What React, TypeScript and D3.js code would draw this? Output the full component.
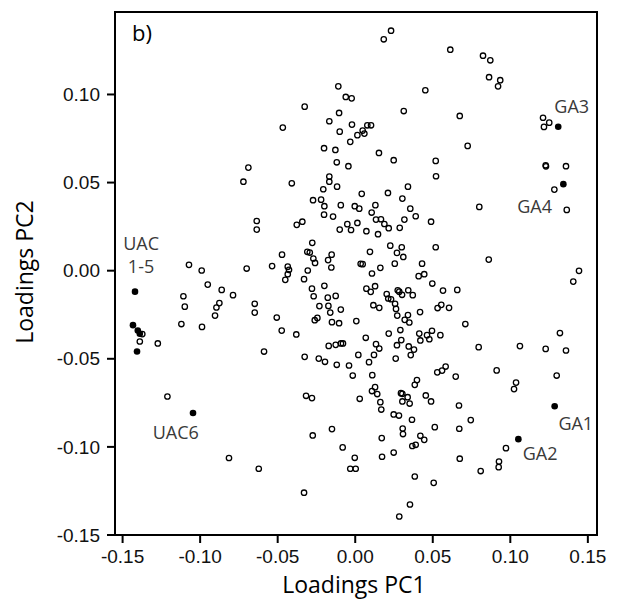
import React from "react";
import { scaleLinear } from "d3";

// PC1 / PC2 loadings of the open (unlabelled) variables
const pc1Open = [
  -0.0689, -0.0721, 0.0231, 0.0184, -0.0109, -0.0061, -0.0023, 0.0452, -0.0326, -0.0104,
  0.0313, -0.0467, -0.0167, -0.0021, -0.01, 0.0078, 0.0102, 0.0048, 0.0059, 0.0014,
  -0.0032, -0.0201, -0.0128, 0.0153, 0.0248, 0.0519, -0.0119, -0.0044, 0.0521, -0.0409,
  -0.0167, -0.0167, -0.0206, -0.0117, 0.034, 0.0042, 0.0211, -0.0272, -0.022, -0.0199,
  -0.0201, -0.0143, -0.0093, -0.0003, 0.0026, 0.013, 0.0106, 0.0304, 0.0355, 0.039,
  0.0317, 0.0489, 0.0134, 0.0166, 0.0188, 0.0216, 0.0287, 0.0147, 0.0072, 0.0014,
  -0.0051, -0.0027, -0.01, -0.0377, -0.0341, -0.0277, -0.0309, -0.0293, -0.027, -0.0259,
  -0.0152, -0.0175, -0.0154, -0.0472, -0.0536, -0.0435, -0.0427, -0.0435, -0.0451, -0.0306,
  -0.033, 0.0035, 0.0048, 0.0095, 0.0162, 0.0108, 0.0226, 0.03, 0.0269, 0.031,
  0.0255, 0.0519, 0.0431, 0.0445, 0.0409, 0.0497, -0.0199, -0.0279, -0.0268, -0.0177,
  -0.0126, -0.0173, -0.0231, -0.0161, -0.0093, 0.0072, 0.0128, 0.01, 0.0203, 0.0213,
  0.0231, 0.0274, 0.0284, 0.0302, 0.0342, 0.0371, 0.0117, 0.0155, 0.0257, 0.0263,
  0.0271, 0.034, 0.0319, 0.0349, 0.0418, 0.0531, -0.0506, -0.0261, -0.0244, -0.015,
  -0.0104, 0.0007, -0.0474, -0.038, 0.0216, 0.0291, 0.0413, 0.0463, 0.0495, 0.0478,
  0.042, 0.0068, 0.0297, -0.0171, -0.0126, -0.0092, -0.0079, 0.0134, 0.0155, 0.0269,
  0.0345, 0.0379, 0.0358, 0.0261, 0.0121, 0.002, -0.0326, -0.0235, -0.0195, -0.0119,
  -0.004, 0.0089, -0.0016, 0.011, 0.0529, 0.0398, 0.0384, 0.0128, 0.0108, 0.0142,
  -0.0317, -0.0279, 0.0029, 0.0162, 0.0168, 0.0295, 0.0304, 0.0338, 0.0304, 0.0351,
  0.0455, 0.0489, 0.0248, 0.0282, 0.0366, 0.0513, -0.015, -0.0274, 0.0306, 0.0308,
  0.042, 0.0445, 0.0368, 0.039, 0.0171, -0.0081, -0.0003, 0.0173, 0.0248, -0.0032,
  0.0003, 0.0384, 0.0506, -0.033, 0.0353, 0.0284, 0.0613, 0.0824, 0.0871, 0.0863,
  0.0935, 0.0921, 0.0674, 0.1211, 0.1251, 0.1217, 0.0725, 0.1228, 0.123, 0.1359,
  0.1284, 0.08, 0.1364, 0.0861, 0.1443, 0.1406, 0.0566, 0.0658, 0.0555, 0.0605,
  0.071, 0.0549, 0.0796, 0.1062, 0.1228, 0.1359, 0.132, 0.056, 0.0583, 0.0648,
  0.0912, 0.1299, 0.1037, 0.1024, 0.0669, 0.0745, 0.0671, 0.0972, 0.0927, 0.0925,
  0.0674, 0.0809, -0.0635, -0.0635, -0.1072, -0.099, -0.07, -0.0951, -0.0861, -0.0788,
  -0.1108, -0.1099, -0.0876, -0.0895, -0.0904, -0.0648, -0.0648, -0.1121, -0.0988, -0.0588,
  -0.1273, -0.1373, -0.1389, -0.1211, -0.0814, -0.0622,
];
const pc2Open = [
  0.0585, 0.0505, 0.1362, 0.1313, 0.1046, 0.0986, 0.0978, 0.1024, 0.0931, 0.0895,
  0.0906, 0.0812, 0.0848, 0.0829, 0.0789, 0.0825, 0.0825, 0.0795, 0.0778, 0.0769,
  0.0731, 0.0695, 0.0685, 0.0668, 0.0627, 0.0623, 0.0615, 0.0593, 0.0536, 0.0496,
  0.0534, 0.0505, 0.0462, 0.0477, 0.0477, 0.0436, 0.0441, 0.04, 0.0403, 0.0366,
  0.0318, 0.0307, 0.0372, 0.0366, 0.0352, 0.0372, 0.033, 0.0409, 0.0352, 0.0309,
  0.029, 0.0278, 0.029, 0.0292, 0.0265, 0.0241, 0.0243, 0.0207, 0.0224, 0.0271,
  0.0264, 0.0231, 0.0233, 0.026, 0.0278, 0.0158, 0.0107, 0.0103, 0.0069, 0.0044,
  0.0091, 0.006, 0.0018, 0.0091, 0.0026, 0.0023, 0.0005, -0.002, -0.0052, 0.0001,
  -0.0048, 0.0039, 0.0037, 0.0107, 0.0016, -0.0016, 0.0142, 0.0133, 0.0101, 0.0078,
  0.004, 0.0133, 0.004, -0.002, -0.0031, -0.0073, -0.0086, -0.0102, -0.0145, -0.0153,
  -0.0143, -0.02, -0.0201, -0.0238, -0.0221, -0.0102, -0.0088, -0.012, -0.0133, -0.0158,
  -0.0162, -0.0111, -0.0119, -0.0137, -0.0111, -0.0139, -0.0196, -0.0211, -0.0188, -0.0217,
  -0.0255, -0.0252, -0.0279, -0.0294, -0.0235, -0.0212, -0.0266, -0.0281, -0.0268, -0.0292,
  -0.0298, -0.0286, -0.034, -0.0362, -0.0357, -0.0337, -0.0357, -0.0366, -0.0341, -0.0389,
  -0.0396, -0.0381, -0.0394, -0.0427, -0.0421, -0.0413, -0.0413, -0.0417, -0.0442, -0.0423,
  -0.043, -0.0448, -0.0479, -0.0499, -0.0478, -0.0478, -0.0489, -0.0499, -0.0517, -0.0534,
  -0.0538, -0.0519, -0.0595, -0.0593, -0.0577, -0.0621, -0.0648, -0.0661, -0.0683, -0.07,
  -0.071, -0.0723, -0.0727, -0.0746, -0.0788, -0.0695, -0.0699, -0.0718, -0.0742, -0.0754,
  -0.0708, -0.0742, -0.0816, -0.0822, -0.0846, -0.0888, -0.0899, -0.0935, -0.0896, -0.0927,
  -0.0937, -0.096, -0.0995, -0.0988, -0.095, -0.1003, -0.1062, -0.1056, -0.1032, -0.1124,
  -0.1124, -0.1168, -0.1204, -0.126, -0.1327, -0.1395, 0.1254, 0.122, 0.1194, 0.1098,
  0.1081, 0.1046, 0.0878, 0.0868, 0.084, 0.0816, 0.0708, 0.0598, 0.0592, 0.0593,
  0.046, 0.0362, 0.0345, 0.0063, -0.0001, -0.0062, -0.0113, -0.0109, -0.0194, -0.0211,
  -0.0303, -0.0366, -0.0434, -0.0428, -0.0444, -0.0453, -0.0354, -0.0567, -0.0544, -0.0601,
  -0.0566, -0.0595, -0.0635, -0.0672, -0.0765, -0.0848, -0.0897, -0.1007, -0.1083, -0.1115,
  -0.1067, -0.1137, 0.0282, 0.0233, 0.0033, 0.0001, 0.0012, -0.0079, -0.0109, -0.0139,
  -0.0145, -0.0204, -0.0184, -0.0209, -0.0255, -0.0188, -0.0238, -0.0303, -0.0319, -0.0459,
  -0.0413, -0.036, -0.0402, -0.0714, -0.1063, -0.1124,
];

// highlighted samples (filled)
const pc1Filled = [0.1309, 0.1342, 0.1286, 0.1052, -0.142, -0.1433, -0.1402, -0.1389, -0.1407, -0.1046];
const pc2Filled = [0.0817, 0.0491, -0.0769, -0.0956, -0.0119, -0.0309, -0.034, -0.0358, -0.0459, -0.0808];

// annotation text and where it sits, in loading units
const labelText = ["GA3", "GA4", "GA1", "GA2", "UAC", "1-5", "UAC6"];
const labelX = [0.1284, 0.1045, 0.131, 0.108, -0.1381, -0.1381, -0.1306];
const labelY = [0.0896, 0.0326, -0.0903, -0.1073, 0.0118, -0.0014, -0.0954];
const labelAnchor = ["start", "start", "start", "start", "middle", "middle", "start"];

const xTicks = [-0.15, -0.1, -0.05, 0, 0.05, 0.1, 0.15];
const xTickLabels = ["-0.15", "-0.10", "-0.05", "0.00", "0.05", "0.10", "0.15"];
const yTicks = [-0.15, -0.1, -0.05, 0, 0.05, 0.1];
const yTickLabels = ["-0.15", "-0.10", "-0.05", "0.00", "0.05", "0.10"];

const W = 623;
const H = 607;
const left = 115;
const right = 597;
const top = 12;
const bottom = 535;

export default function App() {
  const x = scaleLinear().domain([-0.1549, 0.1559]).range([left, right]);
  const y = scaleLinear().domain([-0.15, 0.1468]).range([bottom, top]);

  const tickFont = "'Liberation Sans', Arial, sans-serif";
  const textFont = "'Open Sans', 'Noto Sans', sans-serif";

  return (
    <svg width={W} height={H} style={{ position: "absolute", left: 0, top: 0, background: "#fff" }}>
      {/* frame */}
      <rect x={left} y={top} width={right - left} height={bottom - top} fill="none" stroke="#000" strokeWidth={2} />

      {/* x axis ticks */}
      {xTicks.map((v, i) => (
        <g key={`xt-${i}`}>
          <line x1={x(v)} x2={x(v)} y1={bottom} y2={bottom + 8} stroke="#000" strokeWidth={2} />
          <text x={x(v)} y={bottom + 28} textAnchor="middle" fontFamily={tickFont} fontSize={19} fill="#111">
            {xTickLabels[i]}
          </text>
        </g>
      ))}

      {/* y axis ticks */}
      {yTicks.map((v, i) => (
        <g key={`yt-${i}`}>
          <line x1={left - 8} x2={left} y1={y(v)} y2={y(v)} stroke="#000" strokeWidth={2} />
          <text x={left - 15} y={y(v)} dy="0.35em" textAnchor="end" fontFamily={tickFont} fontSize={19} fill="#111">
            {yTickLabels[i]}
          </text>
        </g>
      ))}

      <text x={354} y={593} textAnchor="middle" fontFamily={textFont} fontSize={23} fill="#000">
        Loadings PC1
      </text>
      <text transform="translate(33,272) rotate(-90)" textAnchor="middle" fontFamily={textFont} fontSize={23} fill="#000">
        Loadings PC2
      </text>

      <text x={left + 17} y={top + 29} fontFamily={textFont} fontSize={22} fill="#000">
        b)
      </text>

      {pc1Open.map((v, i) => (
        <circle key={`o-${i}`} cx={x(v)} cy={y(pc2Open[i])} r={2.7} fill="none" stroke="#000" strokeWidth={1.3} />
      ))}
      {pc1Filled.map((v, i) => (
        <circle key={`f-${i}`} cx={x(v)} cy={y(pc2Filled[i])} r={3.3} fill="#000" />
      ))}

      {labelText.map((t, i) => (
        <text
          key={`l-${i}`}
          x={x(labelX[i])}
          y={y(labelY[i])}
          textAnchor={labelAnchor[i]}
          fontFamily={textFont}
          fontSize={18}
          fill="#3a3a3a"
        >
          {t}
        </text>
      ))}
    </svg>
  );
}
